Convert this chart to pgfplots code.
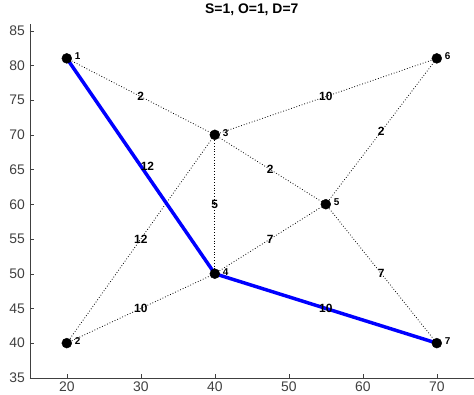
\documentclass[border={6bp 0bp 0bp 0bp}]{standalone}
\usepackage{fontspec}
\setmainfont{Liberation Sans}
\usepackage{pgfplots}
\pgfplotsset{compat=1.18}
\definecolor{tickgray}{RGB}{64,64,64}
\begin{document}
\begin{tikzpicture}
\begin{axis}[
  width=445bp, height=355bp, scale only axis,
  xmin=15, xmax=75, ymin=35, ymax=86,
  xtick={20,30,...,70}, ytick={35,40,...,85},
  axis lines=left, axis line style={draw=tickgray, -},
  tick align=inside, major tick length=4bp,
  tick style={draw=tickgray},
  ticklabel style={font=\fontsize{14}{15}\selectfont, text=tickgray},
  yticklabel style={xshift=-1.5bp},
  /pgf/number format/assume math mode=true,
  title={\bfseries S=1, O=1, D=7},
  title style={font=\fontsize{14}{15}\selectfont, text=black, yshift=-1bp},
  clip=false,
]
% dotted edges
\addplot[black, dotted, line width=0.8pt] coordinates {(20,81) (40,70)};
\addplot[black, dotted, line width=0.8pt] coordinates {(40,70) (70,81)};
\addplot[black, dotted, line width=0.8pt] coordinates {(20,40) (40,70)};
\addplot[black, dotted, line width=0.8pt] coordinates {(20,40) (40,50)};
\addplot[black, dotted, line width=0.8pt] coordinates {(40,70) (40,50)};
\addplot[black, dotted, line width=0.8pt] coordinates {(40,70) (55,60)};
\addplot[black, dotted, line width=0.8pt] coordinates {(40,50) (55,60)};
\addplot[black, dotted, line width=0.8pt] coordinates {(55,60) (70,81)};
\addplot[black, dotted, line width=0.8pt] coordinates {(55,60) (70,40)};
% shortest path
\addplot[blue, line width=3.5pt] coordinates {(20,81) (40,50) (70,40)};
% nodes
\addplot[only marks, mark=*, mark size=5pt, black,
  nodes near coords, point meta=explicit symbolic,
  every node near coord/.style={anchor=west, font=\fontsize{10}{11}\selectfont\bfseries, text=black, xshift=4.5bp, yshift=2bp}]
  table[meta=lab] {
x y lab
20 81 1
20 40 2
40 70 3
40 50 4
55 60 5
70 81 6
70 40 7
};
% edge weights
\addplot[only marks, mark=none,
  nodes near coords, point meta=explicit symbolic,
  every node near coord/.style={anchor=center, font=\fontsize{12}{13}\selectfont\bfseries, text=black}]
  table[meta=w] {
x y w
30 75.5 2
55 75.5 10
30.9 65.5 12
30 55 12
30 45 10
40 60 5
47.5 65 2
47.5 55 7
62.5 70.5 2
62.5 50 7
55 45 10
};
\end{axis}
\end{tikzpicture}
\end{document}
